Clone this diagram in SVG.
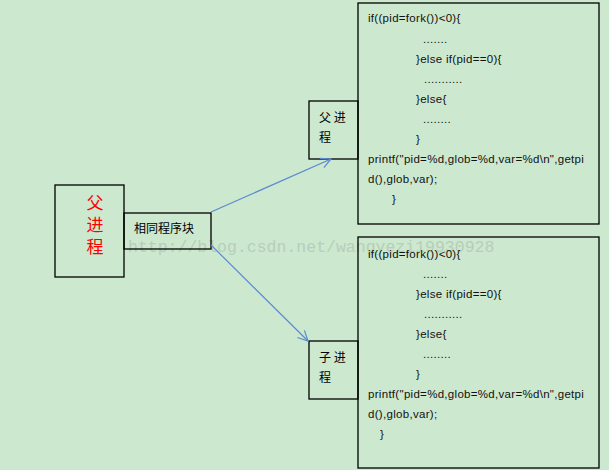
<svg xmlns="http://www.w3.org/2000/svg" width="609" height="470" viewBox="0 0 609 470">
<defs>
<style>
.box{fill:none;stroke:#000;stroke-width:1.3}
.code{font-family:"Liberation Sans","Noto Sans",sans-serif;font-size:11.5px;letter-spacing:0.3px;fill:#111}
.cjk{font-family:"Noto Sans CJK SC","DejaVu Sans",sans-serif;fill:#000}
.red{fill:#ff0000;font-size:17px}
.conn{stroke:#5b8ad0;stroke-width:1.2;fill:none}
.wm{font-family:"Liberation Mono",monospace;font-size:16.5px;fill:#9aa79b;opacity:0.4}
</style>
<marker id="arr" viewBox="0 0 12 12" refX="11" refY="6" markerWidth="12" markerHeight="12" markerUnits="userSpaceOnUse" orient="auto">
<path d="M1,1 L11,6 L1,11" fill="none" stroke="#5b8ad0" stroke-width="1.2"/>
</marker>
</defs>
<rect width="609" height="470" fill="#cce8cf"/>
<text class="wm" x="128" y="252">http://blog.csdn.net/wangyezi19930928</text>
<g id="parent">
<rect class="box" x="55" y="185" width="69" height="92"/>
<text class="cjk red" x="95" y="209" text-anchor="middle">父</text>
<text class="cjk red" x="95" y="231" text-anchor="middle">进</text>
<text class="cjk red" x="95" y="253" text-anchor="middle">程</text>
</g>
<g id="same-block">
<rect class="box" x="124" y="213" width="87" height="36"/>
<text class="cjk" x="134" y="233" font-size="12">相同程序块</text>
</g>
<g id="parent-label">
<rect class="box" x="309" y="101" width="49" height="58"/>
<text class="cjk" x="319" y="122" font-size="12">父 进</text>
<text class="cjk" x="319" y="142" font-size="12">程</text>
</g>
<g id="child-label">
<rect class="box" x="309" y="341" width="49" height="58"/>
<text class="cjk" x="319" y="362" font-size="12">子 进</text>
<text class="cjk" x="319" y="382" font-size="12">程</text>
</g>
<g id="parent-code">
<rect class="box" x="358" y="3" width="241" height="221"/>
<text class="code" x="368" y="22">if((pid=fork())&lt;0){</text>
<text class="code" x="423" y="43">.......</text>
<text class="code" x="416" y="63">}else if(pid==0){</text>
<text class="code" x="424" y="83">...........</text>
<text class="code" x="416" y="103">}else{</text>
<text class="code" x="423" y="123">........</text>
<text class="code" x="416" y="143">}</text>
<text class="code" x="368" y="163">printf("pid=%d,glob=%d,var=%d\n",getpi</text>
<text class="code" x="368" y="183">d(),glob,var);</text>
<text class="code" x="392" y="203">}</text>
</g>
<g id="child-code">
<rect class="box" x="358" y="237" width="241" height="231"/>
<text class="code" x="368" y="258">if((pid=fork())&lt;0){</text>
<text class="code" x="423" y="278">.......</text>
<text class="code" x="416" y="298">}else if(pid==0){</text>
<text class="code" x="424" y="318">...........</text>
<text class="code" x="416" y="338">}else{</text>
<text class="code" x="423" y="358">........</text>
<text class="code" x="416" y="378">}</text>
<text class="code" x="368" y="398">printf("pid=%d,glob=%d,var=%d\n",getpi</text>
<text class="code" x="368" y="418">d(),glob,var);</text>
<text class="code" x="380" y="438">}</text>
</g>
<g id="connectors">
<line class="conn" x1="211" y1="212" x2="331" y2="159" marker-end="url(#arr)"/>
<line class="conn" x1="211" y1="245" x2="308" y2="341" marker-end="url(#arr)"/>
</g>
</svg>
